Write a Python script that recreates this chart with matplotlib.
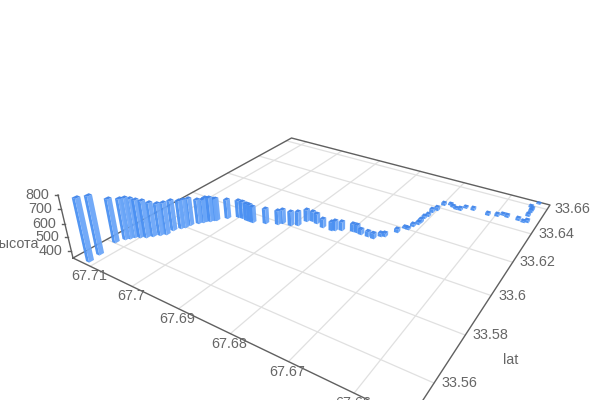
import numpy as np
import matplotlib
matplotlib.use("Agg")
import matplotlib.pyplot as plt
from matplotlib.collections import PolyCollection

lon = [67.7114,67.7117,67.7125,67.7118,67.7113,67.7109,67.7101,67.7092,67.7085,67.7077,67.7070,67.7070,67.7063,67.7059,67.7057,67.7049,67.7044,67.7042,67.7036,67.7032,67.7029,67.7017,67.7002,67.6993,67.6982,67.6975,67.6968,67.6946,67.6925,67.6920,67.6903,67.6892,67.6887,67.6878,67.6867,67.6850,67.6831,67.6826,67.6816,67.6797,67.6789,67.6780,67.6766,67.6755,67.6747,67.6741,67.6729,67.6723,67.6717,67.6714,67.6709,67.6708,67.6709,67.6706,67.6706,67.6701,67.6698,67.6687,67.6680,67.6672,67.6664,67.6658,67.6643,67.6613,67.6597,67.6589,67.6580,67.6559,67.6549,67.6543,67.6548,67.6548,67.6548,67.6553,67.6544]
lat = [33.5490,33.5533,33.5608,33.5639,33.5651,33.5665,33.5674,33.5685,33.5702,33.5720,33.5735,33.5766,33.5790,33.5802,33.5822,33.5847,33.5861,33.5872,33.5879,33.5892,33.5896,33.5928,33.5955,33.5957,33.5954,33.5954,33.5954,33.5973,33.5991,33.6005,33.6009,33.6023,33.6062,33.6074,33.6069,33.6058,33.6058,33.6064,33.6077,33.6092,33.6093,33.6090,33.6091,33.6090,33.6115,33.6122,33.6168,33.6206,33.6205,33.6233,33.6255,33.6272,33.6305,33.6325,33.6359,33.6382,33.6431,33.6445,33.6435,33.6427,33.6428,33.6454,33.6454,33.6448,33.6459,33.6477,33.6471,33.6471,33.6467,33.6474,33.6519,33.6553,33.6570,33.6590,33.6630]
height = [801,773,674,654,655,641,633,626,604,589,590,577,562,563,556,533,526,534,534,518,518,495,480,479,479,478,470,462,454,454,454,454,438,422,422,413,413,421,413,405,405,385,385,385,372,372,372,358,358,365,365,372,365,365,373,373,366,358,358,358,366,358,366,365,365,358,365,365,358,365,365,366,366,358,352]

lon_ticks = [67.71, 67.7, 67.69, 67.68, 67.67, 67.66]
lat_ticks = [33.56, 33.58, 33.6, 33.62, 33.64, 33.66]
height_ticks = [400, 500, 600, 700, 800]

lon_max, lon_min = 67.7144, 67.6524
lat_min, lat_max = 33.547, 33.664
h_min, h_max = 345, 800


def fit_floor():
    corners = [(0, 0, 73, 258), (0, 1, 291.5, 138), (1, 1, 550, 205), (1, 0, 410, 420)]
    A, b = [], []
    for X, Y, u, v in corners:
        A.append([X, Y, 1, 0, 0, 0, -u * X, -u * Y])
        A.append([0, 0, 0, X, Y, 1, -v * X, -v * Y])
        b += [u, v]
    s = np.linalg.solve(np.array(A, float), np.array(b, float))
    return np.array([[s[0], s[1], s[2]], [s[3], s[4], s[5]], [s[6], s[7], 1]])


H = fit_floor()
vanish = np.array([330.0, 1340.0, 1.0])
up = vanish * (195 * H[2, 2] - H[1, 2]) / (vanish[1] - 195)


def project(lo, la, h=h_min):
    X = (lon_max - lo) / (lon_max - lon_min)
    Y = (la - lat_min) / (lat_max - lat_min)
    Z = (h - h_min) / (h_max - h_min)
    p = H @ np.array([X, Y, 1.0]) + Z * up
    return p[0] / p[2], p[1] / p[2]


plt.rcParams["font.family"] = ["Liberation Sans", "DejaVu Sans"]
fig = plt.figure(figsize=(6, 4), dpi=100)
ax = fig.add_axes([0, 0, 1, 1])
ax.set_xlim(0, 600)
ax.set_ylim(400, 0)
ax.axis("off")

grid_color = "#e0e0e0"
axis_color = "#606060"
text_color = "#666666"
font_size = 10.4

for t in lon_ticks:
    ax.plot(*zip(project(t, lat_min), project(t, lat_max)), color=grid_color, lw=0.9, zorder=1)
    x, y = project(t, lat_min)
    ax.text(x - 1, y + 10, str(t), color=text_color, fontsize=font_size, ha="center", va="center", zorder=6)
for t in lat_ticks:
    ax.plot(*zip(project(lon_min, t), project(lon_max, t)), color=grid_color, lw=0.9, zorder=1)
    x, y = project(lon_min, t)
    ax.text(x + 7, y, str(t), color=text_color, fontsize=font_size, ha="left", va="center", zorder=6)

corners = [(lon_max, lat_min), (lon_max, lat_max), (lon_min, lat_max), (lon_min, lat_min), (lon_max, lat_min)]
ax.plot(*zip(*[project(*c) for c in corners]), color=axis_color, lw=1, zorder=2)

ax.plot(*zip(project(lon_max, lat_min), project(lon_max, lat_min, h_max)), color=axis_color, lw=1, zorder=2)
for t in height_ticks:
    x, y = project(lon_max, lat_min, t)
    ax.plot([x - 3, x], [y, y], color=axis_color, lw=1, zorder=2)
    ax.text(x - 9, y, str(t), color=text_color, fontsize=font_size, ha="right", va="center", zorder=6)

ax.text(39, 244, "высота", color=text_color, fontsize=font_size, ha="right", va="center", zorder=6)
ax.text(511, 360, "lat", color=text_color, fontsize=font_size, ha="center", va="center", zorder=6)

half_lon = 0.0004
half_lat = 0.0009
# far bars first so the near ones cover them
order = sorted(range(len(lon)), key=lambda i: project(lon[i], lat[i])[1])
polys, colors = [], []
for i in order:
    lo, la, h = lon[i], lat[i], height[i]
    a = (lo + half_lon, la - half_lat)
    b = (lo - half_lon, la - half_lat)
    c = (lo - half_lon, la + half_lat)
    d = (lo + half_lon, la + half_lat)
    polys.append([project(*a, h_min), project(*b, h_min), project(*b, h), project(*a, h)])
    colors.append("#4a90f2")
    polys.append([project(*b, h_min), project(*c, h_min), project(*c, h), project(*b, h)])
    colors.append("#6ba6f8")
    polys.append([project(*a, h), project(*b, h), project(*c, h), project(*d, h)])
    colors.append("#3f84ea")
ax.add_collection(PolyCollection(polys, facecolors=colors, edgecolors="none", alpha=0.95, zorder=4))

fig.savefig("out.png", dpi=100)
